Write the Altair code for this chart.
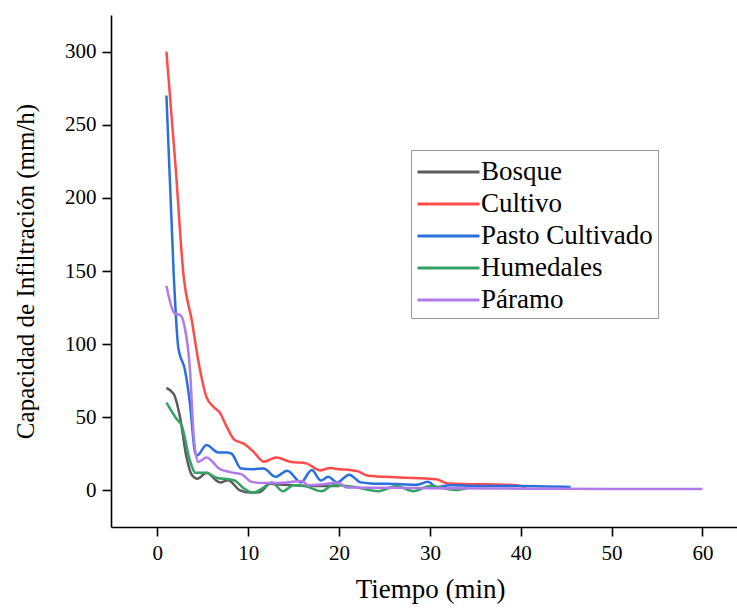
import altair as alt
import pandas as pd

series_names = ["Bosque", "Cultivo", "Pasto Cultivado", "Humedales", "Páramo"]
series_colors = ["#5c5c5c", "#ff4b4b", "#2a6fe0", "#35a265", "#b27ae8"]

t_bosque = [1, 1.8, 2.5, 3.2, 3.8, 4.4, 5.4, 6.9, 7.8, 9.1, 10.2, 11.3, 12.4, 13.5, 15, 17, 20]
v_bosque = [70, 66, 50, 23, 10.5, 8, 12, 5.5, 7, 0, -1.5, -1, 4.5, 4, 3.5, 3, 3]

t_cultivo = [1, 2, 2.9, 3.8, 4.5, 5.4, 6.2, 6.9, 7.6, 8.5, 9.5, 10.6, 11.7, 13.1, 14.6, 16.4,
             17.9, 19, 20.1, 21.2, 22.1, 23.2, 26.7, 30.7, 32, 39.5, 40.6]
v_cultivo = [300, 222, 146, 116, 89, 64, 57, 53, 44, 34.5, 32, 26.4, 19.6, 22.5, 19.6, 18.5,
             13.7, 15.3, 14.4, 14, 13, 10, 8.9, 7.7, 4.8, 3.6, 2]

t_pasto = [1, 1.8, 2.3, 3.05, 3.6, 4.15, 4.4, 5.4, 6.7, 7.7, 8.2, 9.2, 10.4, 11.7, 13, 14.3,
           15.8, 17, 18, 18.8, 19.8, 21.1, 22.4, 23.5, 26.7, 28.5, 29.8, 30.7, 32.2, 35, 40, 45.5]
v_pasto = [270, 148, 98, 82, 59, 26, 24, 31, 26, 26, 25, 15, 14.5, 15, 9.3, 13.5,
           5.5, 13.9, 6.8, 9.3, 5.5, 10.8, 5.5, 4.8, 4.3, 3.8, 5.9, 2.3, 3.6, 3, 3, 2.3]

t_humedales = [1, 2.1, 2.7, 3.6, 4.2, 5.3, 6.6, 8, 8.6, 9.5, 10.6, 11.7, 12.6, 13.8, 15, 16.2,
               18.1, 19.3, 21.5, 24.3, 26.3, 28.2, 30, 32.9, 34]
v_humedales = [60, 49, 44, 20, 12, 12, 8.5, 7.5, 6.5, 1.5, -1.5, 2, 5.5, -0.5, 3.5, 3,
               -0.5, 3.5, 2.5, -0.5, 3, -0.5, 3, 0.3, 1.5]

t_paramo = [1, 1.9, 2.5, 3.0, 3.6, 4.0, 4.5, 5.4, 6.9, 8, 9.3, 10.3, 11.7, 13.1, 14.2, 15.9,
            16.6, 18, 19.9, 20.8, 25, 30, 40, 50, 60]
v_paramo = [140, 121, 120, 112, 82, 37, 19.5, 22.5, 14.5, 12.5, 11, 6, 5, 5, 5.5, 6.5,
            3.5, 4, 5.5, 2, 1.8, 1.5, 1.2, 1, 1]

x_ticks = [0, 10, 20, 30, 40, 50, 60]
y_ticks = [0, 50, 100, 150, 200, 250, 300]

rows = []
for name, ts, vs in [
    ("Bosque", t_bosque, v_bosque),
    ("Cultivo", t_cultivo, v_cultivo),
    ("Pasto Cultivado", t_pasto, v_pasto),
    ("Humedales", t_humedales, v_humedales),
    ("Páramo", t_paramo, v_paramo),
]:
    for t, v in zip(ts, vs):
        rows.append({"serie": name, "t": t, "v": v, "k": series_names.index(name)})
df = pd.DataFrame(rows)

FONT = "Liberation Serif"

chart = alt.Chart(df).mark_line(interpolate="monotone", strokeWidth=2.5).encode(
    x=alt.X("t:Q", scale=alt.Scale(domain=[-5.1, 63.8], nice=False, zero=False),
            axis=alt.Axis(values=x_ticks, title="Tiempo (min)", grid=False,
                          labelPadding=6, titlePadding=13, titleFontSize=27, titleX=319)),
    y=alt.Y("v:Q", scale=alt.Scale(domain=[-25, 325], nice=False, zero=False),
            axis=alt.Axis(values=y_ticks, title="Capacidad de Infiltración (mm/h)", grid=False,
                          labelPadding=6, titlePadding=26, titleFontSize=25)),
    color=alt.Color("serie:N", scale=alt.Scale(domain=series_names, range=series_colors),
                    legend=alt.Legend(title=None, orient="none", legendX=300, legendY=135,
                                      symbolType="M-1,0L3,0", symbolSize=961, symbolStrokeWidth=3,
                                      labelFont=FONT, labelFontSize=27, labelColor="black",
                                      labelOffset=31, rowPadding=2, padding=5, labelLimit=400,
                                      strokeColor="#999999", fillColor="white")),
    detail="k:O",
).properties(
    width=626, height=512,
    padding={"left": 111, "top": 15, "right": 0, "bottom": 81},
    autosize="none",
    background="white",
).configure_view(stroke=None).configure_axis(
    domainColor="black", domainWidth=1.6, tickColor="black", tickWidth=1.6, tickSize=9,
    labelFont=FONT, labelFontSize=21, labelColor="black",
    titleFont=FONT, titleFontWeight="normal", titleColor="black",
)

chart.save("out.html", embed_options={"renderer": "svg", "actions": False})
